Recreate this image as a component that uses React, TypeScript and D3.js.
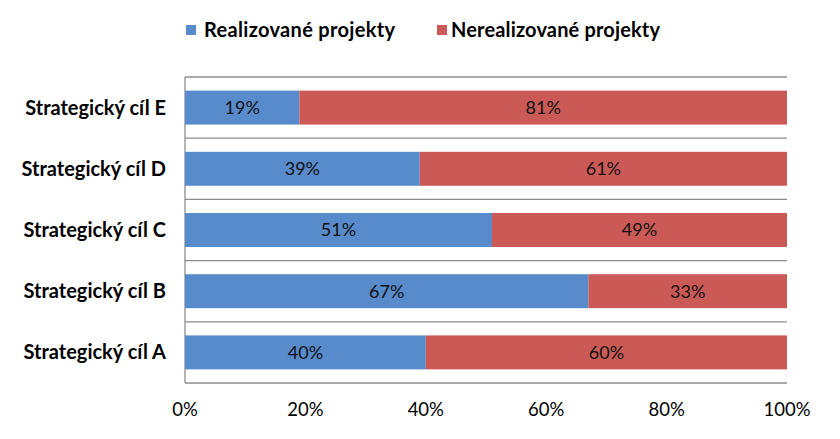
import React from 'react';
import { scaleLinear, scaleBand } from 'd3';

const categories = ['Strategický cíl E', 'Strategický cíl D', 'Strategický cíl C', 'Strategický cíl B', 'Strategický cíl A'];
const realized = [19, 39, 51, 67, 40];
const unrealized = [81, 61, 49, 33, 60];
const seriesNames = ['Realizované projekty', 'Nerealizované projekty'];
const xTicks = [0, 20, 40, 60, 80, 100];

const colors = ['#588BCB', '#CB5A56'];
const font = 'Lato, Calibri, sans-serif';

const App: React.FC = () => {
  const width = 840;
  const height = 439;
  const left = 185;
  const right = 787;
  const top = 77;
  const bottom = 383;

  const x = scaleLinear([0, 100], [left, right]);
  const y = scaleBand<string>(categories, [top, bottom]).paddingInner(0.445).paddingOuter(0.2225);
  const bands = scaleBand<string>(categories, [top, bottom]);

  return (
    <svg width={width} height={height} style={{ position: 'absolute', left: 0, top: 0 }} fontFamily={font}>
      <rect x={0} y={0} width={width} height={height} fill="#fff" />
      {/* legend */}
      <rect x={186} y={25} width={10} height={10} fill={colors[0]} />
      <text x={204} y={37} fontSize={20} fontWeight="bold" fill="#000" textLength={191}>{seriesNames[0]}</text>
      <rect x={437} y={25} width={10} height={10} fill={colors[1]} />
      <text x={451} y={37} fontSize={20} fontWeight="bold" fill="#000" textLength={209}>{seriesNames[1]}</text>

      {/* gridlines */}
      {categories.map((c) => (
        <line key={c} x1={left} x2={right} y1={bands(c)!} y2={bands(c)!} stroke="#8c8c8c" strokeWidth={1.3} />
      ))}
      <line x1={left} x2={right} y1={bottom} y2={bottom} stroke="#8c8c8c" strokeWidth={1.3} />
      <line x1={left} x2={left} y1={top} y2={bottom} stroke="#8c8c8c" strokeWidth={1.3} />

      {categories.map((c, i) => {
        const yy = y(c)!;
        const h = y.bandwidth();
        const x0 = x(0);
        const x1 = x(realized[i]);
        const x2 = x(realized[i] + unrealized[i]);
        return (
          <g key={c}>
            <rect x={x0} y={yy} width={x1 - x0} height={h} fill={colors[0]} />
            <rect x={x1} y={yy} width={x2 - x1} height={h} fill={colors[1]} />
            <text x={(x0 + x1) / 2} y={yy + h / 2} dy="0.35em" textAnchor="middle" fontSize={18} fill="#111">{realized[i]}%</text>
            <text x={(x1 + x2) / 2} y={yy + h / 2} dy="0.35em" textAnchor="middle" fontSize={18} fill="#111">{unrealized[i]}%</text>
            <text x={166} y={yy + h / 2} dy="0.35em" textAnchor="end" fontSize={20} fontWeight="bold" fill="#000">{c}</text>
          </g>
        );
      })}

      {xTicks.map((t) => (
        <text key={t} x={x(t)} y={410} dy="0.35em" textAnchor="middle" fontSize={18.5} fill="#000">{t}%</text>
      ))}
    </svg>
  );
};

export default App;
